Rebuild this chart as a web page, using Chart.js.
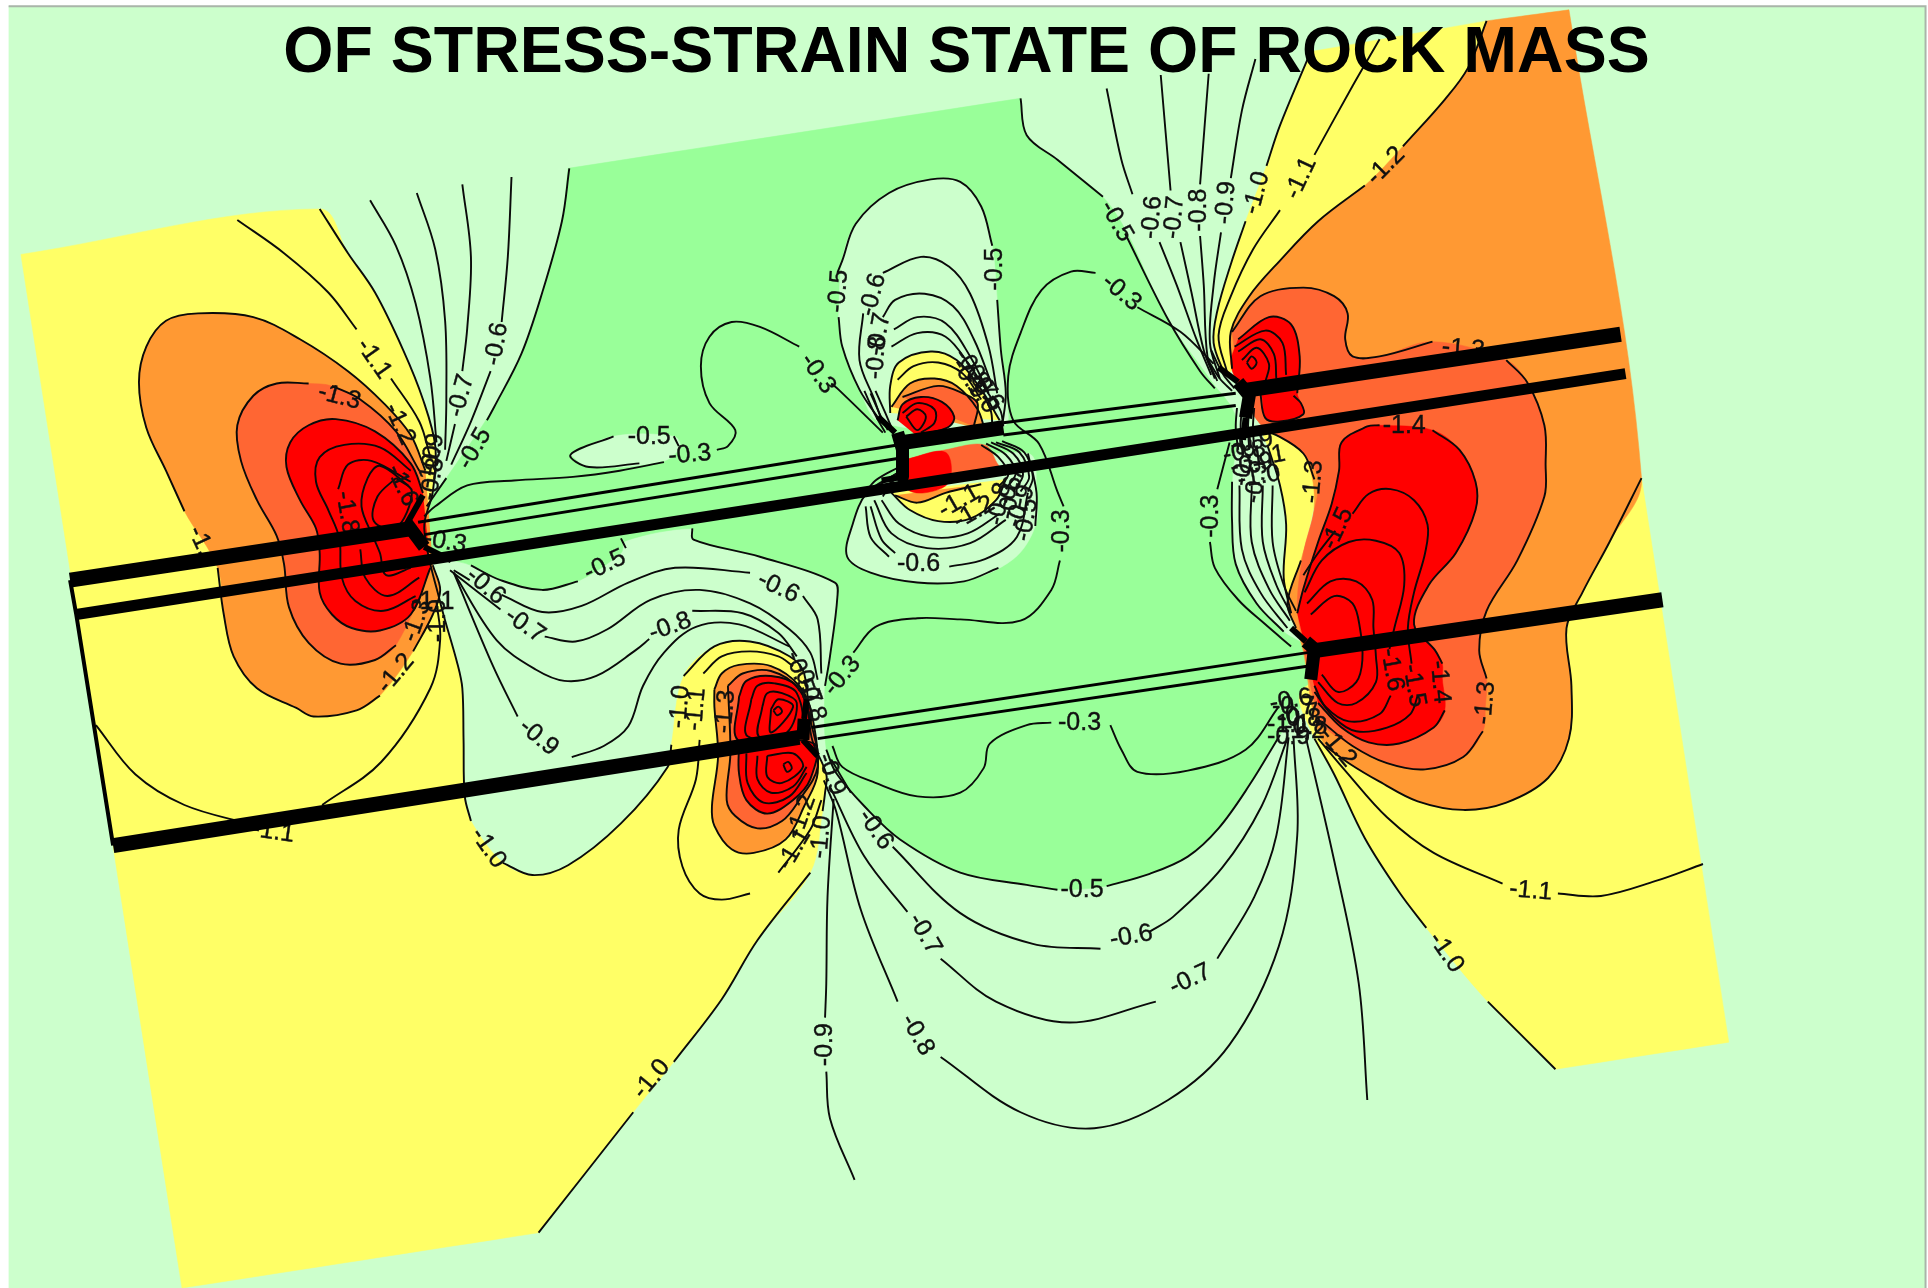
<!DOCTYPE html>
<html>
<head>
<meta charset="utf-8">
<title>Stress-strain state of rock mass</title>
<script src="https://cdn.jsdelivr.net/npm/chart.js@4/dist/chart.umd.min.js"></script>
<style>
  html, body { margin: 0; padding: 0; background: #fff; }
  canvas { display: block; }
</style>
</head>
<body>
<canvas id="contourChart" width="1928" height="1288"></canvas>
<script>
const titleText = 'OF STRESS-STRAIN STATE OF ROCK MASS';

// contour lines. null = break in the line where a label sits
const m10Left = [[260,170],[283,206],[305,238],[328,285],[344,325],[354,363],[352,400],[345,430],[358,490],[372,540],[376,560],[377,602],[378,648],[383,668],null,[409,702],[433,712],[462,704],[505,670],[543,624],[546,606],null,[556,550],[581,526],[610,522],[642,534],[654,548],[660,600],[672,630],[671,645],[669,660],null,[659,710],[616,765],[587,813],[548,864],null,[515,905],[438,1003]];
const m11TopLeft = [[193,179],[231,206],[267,238],[290,268],null,[318,308],[341,343],[350,372]];
const m09TopLeft = [[301,163],[322,200],[338,247],[350,308],[355,360]];
const m08TopLeft = [[339,157],[354,203],[362,261],[363,325],[362,366]];
const m07TopLeft = [[376,150],[383,209],[380,267],[376,302],null,[370,345],[363,375]];
const m06TopLeft = [[416,144],[413,209],[408,262],null,[399,302],[383,343],[367,378]];
const m05TopLeft = [[463,137],[457,180],[441,238],[424,288],[402,331],[396,342],null,[363,389],[347,412]];
const m12Left = [[346,383],[334,354],[312,328],[283,302],[244,276],[206,258],[161,255],[135,261],[119,282],[113,311],[119,348],[135,383],[150,416],null,[177,462],[182,500],[190,534],[209,560],[241,576],[255,583],[290,578],[309,566],null,[336,530],[352,500],[358,480],[352,460]];
const m13Left = [[341,383],[322,351],[293,325],[270,314],null,[251,312],[225,312],[206,322],[193,346],[196,375],[209,407],[225,436],[231,459],[235,494],[251,523],[277,540],[305,537],[322,525],null,[350,465]];
const m14Left = [[344,401],[334,377],[305,351],[273,341],[251,346],[236,360],[233,380],[244,407],[257,430],[260,450],[260,482],[270,500],[286,511],[309,513],[334,500],[350,462]];
const m15Left = [[334,383],[309,364],[280,362],[260,372],[257,392],[267,415],[276,438],[278,470],[289,489],[312,497],[338,485]];
const m16Left = [[334,392],[302,375],[283,378],[275,398],null,[293,447],[297,470],[315,485],[341,470]];
const m17Left = [[332,395],[309,379],[299,389],[294,412],[304,438],[309,450],[314,468],[334,462]];
const m18Left = [[322,389],[307,404],[304,424],[322,430],[335,400],[322,389]];
const m11BelowLeft = [[355,490],[358,520],[350,560],[310,620],[262,655],null,[205,671],[150,655],[110,630],[78,590]];

const m06Fan = [[369,464],[382,472],null,[408,484],[441,498],[473,493],[511,474],[549,462],[610,466],null,[653,485],[665,504],[668,548]];
const m07Fan = [[366,464],[407,496],null,[443,518],[468,522],[494,512],[529,488],[569,480],[610,491],[642,512],[659,531],[665,553]];
const m08Fan = [[369,466],[404,521],[436,545],[459,554],[485,550],[517,529],[528,520],null,[563,497],[604,499],[633,515],[648,534]];
const m09Fan = [[369,466],[401,542],[421,583],null,[465,616],[491,607],[511,591],[523,558],[540,531],[566,510],[601,508],[642,526]];
const m05BelowFan = [[383,460],[407,472],[441,480],[470,473],null,[509,446],[505,438]];
const m05Pale = [[563,430],[564,439],[618,453],[679,474],[681,486],[675,534],[671,558]];

const m11Lobe = [[668,651],[659,675],[633,710],null,[610,727],[587,732],[569,727],[555,705],[552,675],[566,634],[569,602],null,[572,548],[587,534],[610,530],[633,534],[645,542]];
const m12Lobe = [[581,561],[587,548],[601,541],[627,542],[650,558],[660,580],[665,629],[654,656],[639,683],[613,694],[595,691],[581,672],[579,656],[584,615],[581,575],[581,561]];
const m13Lobe = [[592,558],[604,548],[627,546],[650,561],[660,590],[665,624],[650,651],[636,668],[616,674],[598,664],[591,651],[594,613],[592,558]];
const m14LobeTop = [[601,567],[607,554],[627,550],[648,558],[660,585],[640,602],[600,602],[601,567]];
const m14LobeLow = [[601,606],[601,629],[607,651],[624,662],[645,651],[659,634],[662,605],[601,606]];
const m15LobeTop = [[611,569],[616,558],[630,556],[648,564],[650,595],[608,599],[611,569]];
const m16LobeTop = [[620,575],[624,564],[636,564],[648,572],[640,596],[617,599],[620,575]];
const m17LobeTop = [[627,577],[633,569],[645,575],[627,596],[627,577]];
const m18LobeTop = [[629,578],[633,575],[636,579],[632,582],[629,578]];
const m15LobeLow = [[607,613],[608,637],[621,653],[642,648],[656,629]];
const m16LobeLow = [[616,615],[616,634],[627,645],[645,640],[656,624]];
const m17LobeLow = [[624,615],[624,632],[636,637],[653,624],[645,613],[624,615]];
const m18LobeLow = [[637,622],[641,620],[644,625],[640,628],[637,622]];

const m05Under = [[1041,598],[1016,639],[991,674],[966,697],[935,711],[900,721],null,[860,724],[835,720],[781,710],[732,683],[703,656],[680,629],[672,610]];
const m06Under = [[676,618],[692,645],null,[726,689],[781,743],[840,768],[895,772],null,[935,758],[954,746],[994,706],[1026,656],[1047,601]];
const m07Under = [[675,640],[703,697],[738,742],null,[765,780],[810,815],[870,832],[940,815],null,[990,780],[1020,730],[1038,680],[1048,600]];
const m08Under = [[670,635],[680,660],[700,740],[730,815],null,[765,860],[830,905],[890,918],[950,895],[1000,850],[1040,770],[1055,680],[1052,600]];
const m09Under = [[678,650],[673,730],[672,800],[671,828],null,[672,872],[675,910],[695,960]];
const m09Right = [[1062,600],[1085,700],[1105,800],[1112,895]];

const m03TopLeftLobe = [[718,352],[682,317],[676,312],null,[650,282],[618,266],[595,262],[577,274],[570,298],[577,328],[598,350],[592,363],[583,366],null,[540,376],[504,383],[466,388],[418,391],[380,395],[354,412],[345,420]];
const m03MidRight = [[987,296],[960,270],[925,250],null,[891,222],[871,221],[847,236],[830,271],[820,306],[824,342],[845,361],[860,400],[865,412],null,[862,456],[855,480],[830,505],[781,504],[746,503],[712,510],[694,531],null,[676,560]];
const m03Bottom = [[677,607],[685,624],[712,637],[746,648],[781,645],[800,625],[805,605],[835,590],[855,588],null,[903,590],[912,610],[925,628],[966,627],[1013,610],[1040,575]];
const m03RightLow = [[1000,360],[990,398],null,[984,441],[988,462],[1007,488],[1029,508],[1050,526]];
const m05RightFan = [[1002,392],[1002,424],[1005,459],[1022,491],[1044,514]];
const fanRight1 = [[1008,395],[1010,447],[1025,482],[1047,511]];
const fanRight2 = [[1018,395],[1018,441],[1032,479],[1049,505]];
const fanRight3 = [[1027,395],[1027,441],[1038,476],[1050,499]];
const fanRight4 = [[1035,395],[1035,441],[1044,476],[1054,497]];
const m05Upper = [[830,80],[835,110],[860,130],[897,160],null,[915,190],[950,260],[976,302],[988,316]];
const m06Upper = [[900,72],[912,130],[921,158],null,[943,197],[957,232],[973,276],[985,305]];
const m07Upper = [[944,61],[952,155],null,[960,197],[969,238],[979,285],[988,308]];
const m08Upper = [[983,60],[976,150],null,[976,192],[979,232],[982,290],[990,310]];
const m09Upper = [[1021,48],[1010,90],[1001,145],null,[993,189],[987,232],[984,279],[992,308]];
const m10Upper = [[1066,42],[1041,102],[1030,135],null,[1013,180],[1001,215],[990,253],[987,279],[996,305]];
const m11Upper = [[1122,32],[1100,70],[1069,126],null,[1041,171],[1019,203],[1001,241],[991,273],[998,303]];
const m12Upper = [[1209,17],[1194,55],[1175,81],[1141,119],null,[1110,151],[1072,180],[1041,212],[1016,241],[1001,270],[1002,300]];
const m13Upper = [[1002,270],[1025,241],[1060,234],[1085,241],[1096,255],[1094,276],[1100,290],[1122,290],[1165,278],null,[1225,293],[1242,311],[1256,346],[1257,378],[1256,404],[1234,456],[1209,497],[1203,529],[1209,552],null,[1206,595],[1190,616],[1159,626],[1128,621],[1100,607],[1075,587]];
const m12Right = [[1335,389],[1309,441],[1287,482],[1274,511],[1278,558],[1276,601],[1259,633],[1225,653],[1190,659],[1153,652],[1122,636],[1097,621],[1078,607]];
const m11Right = [[1072,601],[1094,627],[1128,665],[1166,694],[1222,719],null,[1267,727],[1302,729],[1346,717],[1385,703]];
const m10Right = [[1069,601],[1085,630],[1110,682],[1138,726],[1160,755],null,[1210,815],[1265,870]];
const m14Right = [[1055,499],[1060,479],[1072,441],[1083,410],[1089,383],[1091,360],[1112,347],[1122,346],null,[1165,350],[1187,366],[1200,392],[1200,415],[1184,450],[1162,476],[1150,508],[1167,529],[1173,540],null,[1175,578],[1166,592],[1138,605],[1113,604],[1091,592],[1072,572]];
const m15Right = [[1060,468],[1072,450],[1086,432],null,[1100,418],[1113,402],[1131,398],[1150,407],[1161,427],[1159,450],[1150,482],[1145,511],[1148,540],null,[1153,566],[1147,581],[1128,592],[1103,595],[1085,584],[1069,563]];
const m16Right = [[1061,482],[1075,456],[1097,441],[1119,440],[1138,450],[1142,476],[1134,511],[1130,528],null,[1131,566],[1122,581],[1097,587],[1078,575],[1069,558]];
const m17Right = [[1063,491],[1082,473],[1103,473],[1116,488],[1117,511],[1119,534],[1119,555],[1103,572],[1088,572],[1072,555]];
const m18Right = [[1066,500],[1085,485],[1100,491],[1106,511],[1108,537],[1103,555],[1088,563],[1075,549]];
const m11UpperBelow = [[1031,363],[1041,395],[1046,427],[1044,470],[1050,499]];
const m12UpperBelow = [[1025,350],[1038,354],[1060,369],[1069,390],null,[1058,456],[1047,491],[1054,511]];
const m14Upper = [[1007,276],[1032,258],[1050,264],[1057,290],[1055,320]];
const m14UpperLow = [[1025,320],[1029,340],[1041,343],[1060,337],[1058,328],[1052,322]];
const m15Upper = [[1004,282],[1029,269],[1043,279],[1046,305]];
const m16Upper = [[1007,286],[1025,276],[1036,288],[1038,308]];
const m17Upper = [[1010,293],[1022,283],[1032,296],[1029,311]];
const m18Upper = [[1014,295],[1018,290],[1022,295],[1018,300],[1014,295]];

const m05Island = [[499,355],[464,370],[479,380],[520,377],null,[552,363],[548,355],null,[508,352]];
const m05MidTop = [[682,258],[685,282],[699,317],[717,344]];
const m05MidTopArc = [[681,222],[685,212],[696,182],[723,157],[757,146],[781,148],[798,168],[807,200]];
const m05MidTopRight = [[811,244],[814,285],[818,320],[815,347]];
const m06MidTop = [[718,222],[749,209],[772,217],[789,239],[804,282],[811,320]];
const m06MidLeft = [[702,255],[699,293],[711,325],[717,342]];
const m07MidTop = [[718,258],[728,244],[752,239],[775,249],[792,276],[807,314]];
const m08MidTop = [[727,268],[746,258],[769,263],[789,290],[804,320]];
const m09MidTop = [[725,282],[746,271],[769,274],[789,298],[807,325]];
const m10MidTop = [[724,336],[724,314],[731,295],[757,286],[778,293],[798,317],[813,342]];
const m11MidTop = [[730,309],[743,298],[763,295],[783,304],[798,325]];
const m12MidTop = [[725,331],[740,312],[760,308],[778,314],[795,333],[801,350]];
const m13MidTop = [[734,323],[763,314],[783,320],[795,328],[792,347]];
const m14MidTop = [[730,342],[734,329],[749,323],[766,327],[776,339],[772,347],[757,352],[746,355]];
const m15MidTop = [[734,336],[746,328],[760,333],[760,344],[749,352]];
const m16MidTop = [[737,339],[746,333],[753,339],[746,350],[737,339]];
const m10MidLow = [[725,401],[740,415],[763,424],[789,422],[810,407],[818,390]];
const m11MidLow = [[728,403],[746,409],[769,401],[798,394]];
const m09MidLow = [[717,407],[731,426],[757,437],[787,434],[813,418]];
const m08MidLow = [[711,407],[725,434],[754,446],[789,442],[818,423]];
const m06MidLow = [[708,412],[717,439],[728,450],null,[772,461],[801,455],[827,437],[836,401]];
const m07MidLow = [[704,412],[708,437],[723,453]];
const m05MidLow = [[730,385],[705,401],[693,428],[689,453],[708,466],[746,474],[784,473],[812,462],null,[842,428],[843,401],[836,369]];

// short dense lines where the contours bunch up at the middle and right nodes
const hatchMidA = [[798,362],[812,372],[820,386],[812,396]];
const hatchMidB = [[802,361],[818,370],[826,385],[818,398]];
const hatchMidC = [[806,360],[824,369],[832,386],[824,400]];
const hatchMidD = [[810,360],[829,368],[837,388],[830,400]];
const hatchMidE = [[815,359],[833,368],[840,388],[836,400]];
const hatchMidF = [[731,380],[712,391],[703,402]];
const hatchMidG = [[731,384],[716,394],[708,401]];
const hatchMidH = [[731,388],[720,396],[714,402]];
const hatchMidI = [[733,392],[722,398],[718,404]];
const hatchMidJ = [[800,322],[806,335],[807,348]];
const hatchMidK = [[807,322],[814,335],[816,347]];
const hatchMidL = [[703,318],[712,338],[720,352]];
const hatchMidM = [[708,320],[716,338],[722,350]];
const hatchMidN = [[712,318],[720,336],[726,350]];
const hatchRightA = [[1006,332],[1005,348],[1007,366]];
const hatchRightB = [[1010,332],[1009,348],[1011,366]];
const hatchRightC = [[1016,332],[1015,348],[1016,366]];
const hatchRightD = [[1020,332],[1019,348],[1020,364]];
const hatchRightE = [[985,285],[995,305],[1004,316]];
const hatchRightF = [[982,292],[992,308],[1002,318]];

// filled bands, painted lowest first
const solid = line => line.filter(p => p);
const panelFill = [[7,5],[7,5],[1566,5],[1566,5],[1566,1060],[1566,1060],[7,1060],[7,1060]];
const greenFill = [[462,137],[462,137],[830,80],[830,80],[835,110],[860,130],[905,170],[950,260],[985,310],[1005,340],[1002,392],[1002,424],[1005,459],[1022,491],[1044,514],[1065,530],[1060,570],[1041,598],[1016,639],[991,674],[966,697],[935,711],[900,721],[860,724],[835,720],[781,710],[732,683],[703,656],[680,629],[672,610],[671,558],[675,534],[681,486],[679,474],[618,453],[564,439],[563,430],[509,440],[505,450],[470,473],[441,480],[407,472],[383,460],[350,448],[347,412],[363,389],[402,331],[424,288],[441,238],[457,180],[462,137]];
const islandFill = [[464,370],[464,370],[499,355],[548,355],[553,363],[540,375],[479,380],[464,370]];
const midTopFill = [[682,258],[685,212],[696,182],[723,157],[757,146],[781,148],[798,168],[807,200],[811,244],[814,285],[818,320],[816,347],[717,344],[699,317],[685,282],[682,258]];
const midLowFill = [[730,385],[705,401],[693,428],[689,453],[708,466],[746,474],[784,473],[824,455],[842,428],[843,401],[836,369],[730,385]];
const yellowLeftFill = [[17,207],[17,207],...solid(m10Left),[438,1003],[148,1048],[148,1048],[17,207],[17,207]];
const yellowRightFill = [[1335,389],[1335,389],[1406,848],[1406,848],[1265,870],[1265,870],[1210,815],[1160,755],[1138,726],[1110,682],[1085,630],[1069,601],[1060,560],[1200,500],[1335,389]];
const yellowUpperFill = [[1066,42],[1066,42],[1209,17],[1209,17],...solid(m12Upper),[996,305],[987,279],[990,253],[1001,215],[1013,180],[1030,135],[1041,102],[1066,42]];
const yellowBandFill = [[1025,350],[1025,350],[1038,354],[1060,369],[1069,390],[1069,409],[1058,456],[1047,491],[1054,511],[1050,499],[1044,470],[1046,427],[1041,395],[1031,363],[1025,350]];
const yellowMidTopFill = solid(m10MidTop);
const yellowMidLowFill = solid(m10MidLow);
const orangeRightFill = [[1209,17],[1209,17],[1276,8],[1276,8],...solid(m12Right),[1068,580],[1060,530],[1054,511],[1047,491],[1058,456],[1069,409],[1060,369],[1038,354],[1025,345],[1010,320],...solid(m12Upper).reverse()];
const orangeLeftFill = solid(m12Left);
const orangeLobeFill = solid(m12Lobe);
const orangeMidTopFill = solid(m12MidTop);
const orangeMidLowFill = solid(m11MidLow);
const redOrangeUpperFill = [...solid(m13Upper).slice(0, 18),[1208,575],...solid(m13Upper).slice(18),[1058,515],[1055,490],[1060,450],[1069,415],[1072,389],[1060,369],[1038,354],[1025,345],[1010,320],[1002,270]];
const redOrangeLeftFill = solid(m13Left);
const redOrangeLobeFill = solid(m13Lobe);
const redOrangeMidTopFill = solid(m13MidTop);
const redOrangeMidLowFill = [[736,374],[769,366],[801,362],[811,377],[815,385],[784,390],[734,394],[736,374]];
const redLeftFill = solid(m14Left);
const redLobeTopFill = solid(m14LobeTop);
const redLobeLowFill = solid(m14LobeLow);
const redRightFill = [...solid(m14Right).slice(0, 17),[1173,552],...solid(m14Right).slice(17)];
const redUpperFill = [[1007,276],[1032,258],[1050,264],[1057,290],[1055,320],[1058,328],[1060,337],[1041,343],[1029,340],[1025,320],[1010,314],[1001,296],[1007,276]];
const redMidTopFill = solid(m14MidTop);
const redMidLowFill = [[736,374],[769,368],[772,392],[752,401],[737,397],[736,374]];

const panelFills = [panelFill];
const greenFills = [greenFill];
const paleFills = [islandFill, midTopFill, midLowFill];
const yellowFills = [yellowLeftFill, yellowRightFill, yellowUpperFill, yellowBandFill, yellowMidTopFill, yellowMidLowFill];
const orangeFills = [orangeRightFill, orangeLeftFill, orangeLobeFill, orangeMidTopFill, orangeMidLowFill];
const redOrangeFills = [redOrangeUpperFill, redOrangeLeftFill, redOrangeLobeFill, redOrangeMidTopFill, redOrangeMidLowFill];
const redFills = [redLeftFill, redLobeTopFill, redLobeLowFill, redRightFill, redUpperFill, redMidTopFill, redMidLowFill];

const contourLines = [m10Left, m11TopLeft, m09TopLeft, m08TopLeft, m07TopLeft, m06TopLeft, m05TopLeft, m12Left, m13Left, m14Left, m15Left, m16Left, m17Left, m18Left, m11BelowLeft,
  m06Fan, m07Fan, m08Fan, m09Fan, m05BelowFan, m05Pale, m11Lobe, m12Lobe, m13Lobe, m14LobeTop, m14LobeLow, m15LobeTop, m16LobeTop, m17LobeTop, m18LobeTop, m15LobeLow, m16LobeLow, m17LobeLow, m18LobeLow,
  m05Under, m06Under, m07Under, m08Under, m09Under, m09Right, m03TopLeftLobe, m03MidRight, m03Bottom, m03RightLow, m05RightFan, fanRight1, fanRight2, fanRight3, fanRight4,
  m05Upper, m06Upper, m07Upper, m08Upper, m09Upper, m10Upper, m11Upper, m12Upper, m13Upper, m12Right, m11Right, m10Right, m14Right, m15Right, m16Right, m17Right, m18Right, m11UpperBelow, m12UpperBelow, m14Upper, m14UpperLow, m15Upper, m16Upper, m17Upper, m18Upper,
  m05Island, m05MidTop, m05MidTopArc, m05MidTopRight, m06MidTop, m06MidLeft, m07MidTop, m08MidTop, m09MidTop, m10MidTop, m11MidTop, m12MidTop, m13MidTop, m14MidTop, m15MidTop, m16MidTop, m10MidLow, m11MidLow, m09MidLow, m08MidLow, m06MidLow, m07MidLow, m05MidLow,
  hatchMidA, hatchMidB, hatchMidC, hatchMidD, hatchMidE, hatchMidF, hatchMidG, hatchMidH, hatchMidI, hatchMidJ, hatchMidK, hatchMidL, hatchMidM, hatchMidN,
  hatchRightA, hatchRightB, hatchRightC, hatchRightD, hatchRightE, hatchRightF];

// tunnels
const thickUpperLeft = [[57,472],[335,430]];
const thickLowerLong = [[62,500],[1322,304]];
const thickLowerLeft = [[92,688],[650,600]];
const thickMiddle = [[735,360],[816,348]];
const thickUpperRight = [[1010,318],[1318,272]];
const thickLowerRight = [[1065,530],[1352,488]];
const thinLeftWall = [[57,472],[62,500],[92,688]];
const thinA1 = [[340,425],[730,362]];
const thinA2 = [[345,435],[730,373]];
const thinB1 = [[816,344],[1005,320]];
const thinB2 = [[816,354],[1005,330]];
const thinC1 = [[660,592],[1070,530]];
const thinC2 = [[665,601],[1070,541]];
const coreLeft = [[331,426],[345,445]];
const coreMiddle = [[730,352],[734,366],[734,388]];
const coreUpperRight = [[1007,311],[1016,322],[1013,340]];
const coreLowerCenter = [[654,585],[653,602]];
const coreLowerRight = [[1062,522],[1069,528],[1066,553]];
const tailLeftUp = [[344,403],[331,426]];
const tailLeftDown = [[345,445],[367,456]];
const tailMiddleUp = [[714,339],[728,352]];
const tailMiddleDown = [[734,388],[717,391]];
const tailUpperRight = [[991,299],[1007,311]];
const tailUpperRightDown = [[1013,340],[1011,358]];
const tailLowerCenterUp = [[656,569],[654,585]];
const tailLowerCenterDown = [[653,602],[665,615]];
const tailLowerRight = [[1050,511],[1062,522]];

const labelTexts = ['-1.1','-1.3','-1.2','-1.8','-1.6','-0.6','-0.7','-0.5','-0.3','-1.3','-1.2','-1.','-0.6','-0.7','-0.5','-0.8','-0.6','-0.9','-1.0','-1.1',
  '-0.5','-0.3','-0.3','-0.5','-0.6','-0.7','-0.8','-0.5','-1.0','-0.9','-0.3','-0.3','-0.6','-0.5','-0.6','-0.8','-1.1','-1.2','-0.3',
  '-1.0','-1.1','-1.3','-1.1','-1.0','-1.2','-0.6','-0.7','-0.8','-0.9','-0.5','-0.6','-0.7','-1.0','-1.1','-1.0','-1.2','-1.3','-1.4','-1.5','-1.6','-1.5','-1.3','-1.4','-1.3','-0.3','-0.3',
  '-1.2','-1.1','-1.0','-0.9','-0.8','-0.7','-0.6','-0.5',
  '-0.9','-1.0','-0.8','-0.8','-0.9','-1.0','-1.1','-0.9','-0.7','-0.8','-1.1','-1.2','-0.5','-0.7','-0.8','-0.9','-0.6','-0.7','-0.8','-0.9','-0.7','-0.8','-0.9','-0.6','-0.7','-0.8','-0.9','-1.1','-1.0'];
const labelXs = [304,276,325,282,327,404,375,386,362,339,322,163,395,427,492,545,633,438,397,222,
  528,561,665,682,710,715,713,809,797,788,912,864,747,835,822,813,780,792,685,
  553,566,590,646,668,652,712,752,746,671,880,920,968,530,1245,1176,1088,1208,1171,1150,1132,1088,1068,1142,1190,878,985,
  1127,1058,1022,997,975,955,937,908,
  352,350,352,1012,1018,1024,1028,1018,1052,1057,1048,1060,650,656,660,676,802,796,790,830,822,1012,1022,1050,1056,1062,1048,352,356];
const labelYs = [292,323,345,417,395,280,322,365,441,505,548,440,477,509,460,510,478,600,690,677,
  356,370,304,237,240,272,291,219,320,308,238,432,459,423,405,410,408,417,550,
  575,577,579,691,681,664,675,760,842,850,724,762,797,878,725,775,608,572,555,558,545,430,392,347,284,588,420,
  135,145,157,165,171,177,177,180,
  370,380,390,368,378,388,372,360,575,585,590,595,547,556,570,630,318,308,300,412,396,378,392,570,582,592,600,490,505];
const labelAngles = [55,15,65,80,65,-80,-75,-60,10,-70,-50,65,40,35,-25,-20,25,40,55,8,
  0,-5,55,-85,-75,-80,-85,-90,55,55,40,-90,0,-80,-80,-80,-30,-30,-50,
  -85,-85,-85,-60,-85,-70,55,60,60,-90,0,-10,-25,-50,5,55,50,-85,85,80,80,-65,-85,0,5,0,-90,
  -45,-65,-75,-85,-90,-85,-85,60,
  -80,-80,-80,-10,-10,-10,-10,-10,0,0,0,0,70,70,70,70,55,55,55,-70,-70,-80,-80,-10,-10,0,0,0,-90];

const PALE = '#ccffcc', GREEN = '#99ff99', YELLOW = '#ffff66', ORANGE = '#ff9933', REDORANGE = '#ff6633', RED = '#ff0000', INK = '#0a0a0a';

const toPoints = line => line.map(p => p ? {x: p[0], y: p[1]} : {x: null, y: null});

function fillDataset(line, color, border) {
  return {
    data: toPoints(line),
    fill: 'shape',
    backgroundColor: color,
    borderColor: border || color,
    borderWidth: border ? 2 : 0.5,
    tension: 0.35,
    pointRadius: 0
  };
}

function lineDataset(line, width, tension, color) {
  return {
    data: toPoints(line),
    fill: false,
    borderColor: color || INK,
    borderWidth: width,
    tension: tension,
    pointRadius: 0,
    borderJoinStyle: 'round'
  };
}

const datasets = [];
panelFills.forEach(l => { const d = fillDataset(l, PALE, '#a9b5a9'); d.tension = 0; datasets.push(d); });
greenFills.forEach(l => datasets.push(fillDataset(l, GREEN)));
paleFills.forEach(l => datasets.push(fillDataset(l, PALE)));
yellowFills.forEach(l => datasets.push(fillDataset(l, YELLOW)));
orangeFills.forEach(l => datasets.push(fillDataset(l, ORANGE)));
redOrangeFills.forEach(l => datasets.push(fillDataset(l, REDORANGE)));
redFills.forEach(l => datasets.push(fillDataset(l, RED)));
contourLines.forEach(l => datasets.push(lineDataset(l, 1.9, 0.35)));
const lastContourIndex = datasets.length - 1;

const BLACK = '#000';
[thinLeftWall].forEach(l => datasets.push(lineDataset(l, 4, 0, BLACK)));
[thinA1, thinA2, thinB1, thinB2, thinC1, thinC2].forEach(l => datasets.push(lineDataset(l, 3, 0, BLACK)));
[thickUpperLeft, thickLowerLeft, thickMiddle, thickUpperRight, thickLowerRight].forEach(l => datasets.push(lineDataset(l, 15, 0, BLACK)));
datasets.push(lineDataset(thickLowerLong, 11, 0, BLACK));
[tailLeftUp, tailLeftDown, tailMiddleUp, tailMiddleDown, tailUpperRight, tailUpperRightDown, tailLowerCenterUp, tailLowerCenterDown, tailLowerRight].forEach(l => datasets.push(lineDataset(l, 6, 0, BLACK)));
[coreLeft, coreMiddle, coreUpperRight, coreLowerCenter, coreLowerRight].forEach(l => datasets.push(lineDataset(l, 13, 0, BLACK)));

// first dataset has to end up at the bottom
datasets.forEach((d, i) => { d.order = datasets.length - i; });

const contourText = {
  id: 'contourText',
  afterDatasetDraw(chart, args) {
    if (args.index !== lastContourIndex) return;
    const ctx = chart.ctx;
    const {x, y} = chart.scales;
    ctx.save();
    ctx.fillStyle = '#111';
    ctx.strokeStyle = '#111';
    ctx.lineWidth = 0.4;
    ctx.font = '25px "Liberation Sans"';
    ctx.textAlign = 'center';
    ctx.textBaseline = 'middle';
    labelTexts.forEach((text, i) => {
      ctx.save();
      ctx.translate(x.getPixelForValue(labelXs[i]), y.getPixelForValue(labelYs[i]));
      ctx.rotate(labelAngles[i] * Math.PI / 180);
      ctx.fillText(text, 0, 0);
      ctx.strokeText(text, 0, 0);
      ctx.restore();
    });
    ctx.restore();
  },
  afterDatasetsDraw(chart) {
    const ctx = chart.ctx;
    const {x, y} = chart.scales;
    ctx.save();
    ctx.fillStyle = '#000';
    ctx.font = 'bold 64.5px "Liberation Sans"';
    ctx.textAlign = 'center';
    ctx.textBaseline = 'middle';
    ctx.fillText(titleText, x.getPixelForValue(786), y.getPixelForValue(44));
    ctx.restore();
  }
};

new Chart(document.getElementById('contourChart').getContext('2d'), {
  type: 'line',
  data: {datasets: datasets},
  plugins: [contourText],
  options: {
    responsive: false,
    animation: false,
    parsing: {xAxisKey: 'x', yAxisKey: 'y'},
    layout: {padding: 0},
    plugins: {legend: {display: false}, tooltip: {enabled: false}},
    elements: {line: {capBezierPoints: false}},
    scales: {
      x: {type: 'linear', min: 0, max: 1568, display: false},
      y: {type: 'linear', min: 0, max: 1048, reverse: true, display: false}
    }
  }
});
</script>
</body>
</html>
